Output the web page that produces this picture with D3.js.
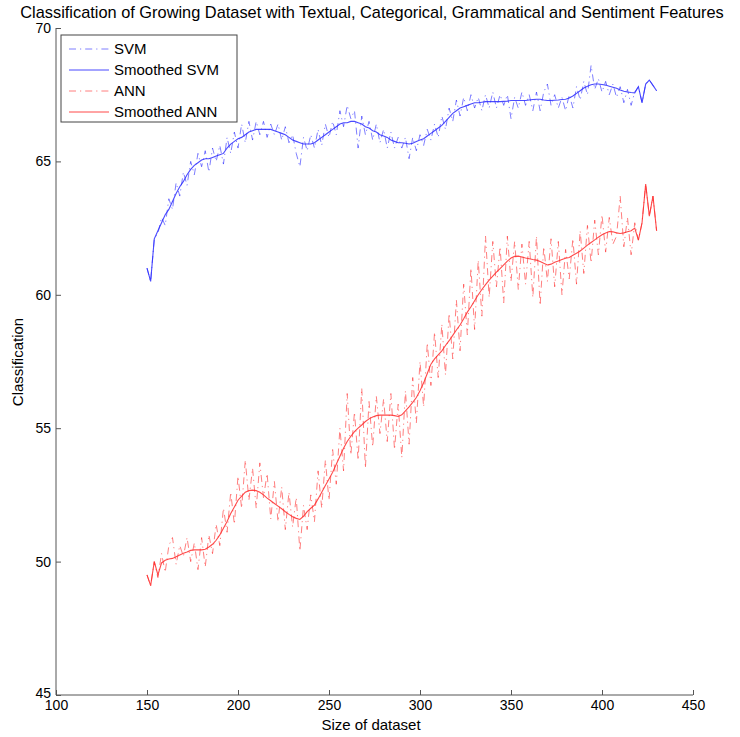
<!DOCTYPE html>
<html><head><meta charset="utf-8">
<script src="https://cdn.jsdelivr.net/npm/d3@7"></script>
<style>body{margin:0;background:#fff}svg{display:block}text{font-family:"Liberation Sans",Arial,sans-serif;fill:#000}</style>
</head><body>
<svg id="chart" width="740" height="737"></svg>
<script>
const titleText = "Classification of Growing Dataset with Textual, Categorical, Grammatical and Sentiment Features";
const xTicks = [100,150,200,250,300,350,400,450];
const yTicks = [45,50,55,60,65,70];
const sizes = d3.range(150, 431, 2);

const svmRaw = [
61.0,60.5,62.1,62.3,62.9,62.6,63.6,63.2,64.2,63.7,
64.6,64.1,65.0,64.5,65.3,64.8,65.4,64.6,65.5,65.0,
65.6,64.9,65.9,65.3,66.1,65.5,66.4,65.7,66.5,65.8,
66.5,66.0,66.5,65.9,66.4,66.0,66.4,65.8,66.3,65.7,
66.0,65.3,64.8,65.9,65.4,66.0,65.5,66.2,65.6,66.4,
65.9,66.5,66.0,66.9,66.3,67.1,66.6,66.9,65.5,66.7,
66.0,66.5,65.8,66.4,65.7,66.2,65.5,66.1,65.5,65.9,
65.5,65.9,65.1,65.9,65.4,66.0,65.6,66.2,65.8,66.4,
65.9,66.7,66.2,67.0,66.5,67.3,66.7,67.4,66.9,67.5,
67.0,67.4,66.9,67.5,67.0,67.6,67.0,67.5,67.1,67.5,
66.6,67.4,67.0,67.6,67.1,67.5,66.9,67.6,66.9,67.6,
67.9,67.1,67.5,67.0,67.4,66.9,67.5,67.0,67.8,67.3,
68.0,67.5,68.6,67.7,68.1,67.6,68.0,67.5,67.9,67.4,
67.8,67.2,67.7,67.1,67.6,67.8,67.2,67.9,68.05,67.85,
67.65];

const svmSmooth = [
61.0,60.5,62.1,62.4,62.7,63.0,63.2,63.5,63.8,64.05,
64.25,64.5,64.7,64.85,64.95,65.05,65.1,65.1,65.15,65.2,
65.25,65.3,65.5,65.65,65.75,65.85,65.9,66.0,66.1,66.15,
66.2,66.2,66.2,66.2,66.2,66.15,66.1,66.05,66.0,65.9,
65.8,65.75,65.7,65.65,65.65,65.65,65.7,65.8,65.9,66.0,
66.1,66.2,66.3,66.4,66.45,66.45,66.5,66.5,66.45,66.4,
66.3,66.25,66.15,66.1,66.0,65.95,65.9,65.8,65.75,65.7,
65.7,65.68,65.65,65.68,65.75,65.8,65.85,65.95,66.05,66.15,
66.25,66.35,66.5,66.65,66.8,66.9,67.0,67.05,67.1,67.15,
67.2,67.2,67.22,67.24,67.24,67.24,67.24,67.24,67.25,67.26,
67.28,67.28,67.28,67.28,67.28,67.3,67.32,67.33,67.33,67.3,
67.28,67.28,67.29,67.3,67.32,67.33,67.38,67.45,67.55,67.65,
67.75,67.82,67.87,67.9,67.9,67.88,67.86,67.82,67.78,67.74,
67.68,67.63,67.6,67.58,67.57,67.8,67.2,67.9,68.05,67.85,
67.65];

const annRaw = [
49.5,49.1,50.0,49.4,50.3,49.6,50.6,50.9,49.9,50.6,
50.2,50.9,50.0,50.7,49.7,50.9,49.8,51.0,50.3,51.4,
50.6,52.0,51.1,52.6,51.4,53.2,52.0,53.8,52.3,53.5,
52.0,53.7,52.4,53.3,51.6,53.0,51.5,52.8,51.2,52.6,
51.3,52.4,50.4,52.1,51.2,52.5,51.5,53.4,52.0,53.8,
52.3,54.2,52.9,55.0,53.4,56.3,54.0,55.6,53.8,56.5,
53.5,56.0,54.3,56.2,54.8,56.1,54.5,56.3,54.2,55.9,
53.9,56.4,54.4,56.9,55.2,57.5,55.8,58.2,56.6,58.6,
56.9,58.9,57.0,59.3,57.6,59.8,57.9,60.4,58.5,61.0,
58.7,61.3,59.2,62.2,59.9,62.0,60.3,61.8,59.7,62.2,
60.5,62.0,60.2,61.9,60.4,62.0,59.9,62.2,59.6,61.8,
60.5,62.1,60.3,62.0,60.0,61.7,60.6,62.1,60.4,62.4,
60.8,62.6,61.2,62.8,61.5,63.0,61.6,62.9,61.9,62.2,
63.7,61.8,62.9,61.5,62.7,62.05,62.7,64.15,62.95,63.7,
62.4];

const annSmooth = [
49.5,49.1,50.0,49.5,49.95,50.05,50.1,50.12,50.18,50.25,
50.31,50.36,50.42,50.44,50.44,50.44,50.46,50.55,50.65,50.8,
51.0,51.25,51.5,51.8,52.05,52.3,52.45,52.6,52.66,52.68,
52.66,52.6,52.5,52.38,52.28,52.18,52.08,51.98,51.87,51.77,
51.68,51.62,51.58,51.7,51.87,52.0,52.12,52.35,52.6,52.85,
53.1,53.35,53.65,53.95,54.25,54.5,54.7,54.87,55.0,55.12,
55.25,55.35,55.42,55.47,55.49,55.49,55.49,55.49,55.47,55.44,
55.5,55.65,55.8,55.97,56.15,56.4,56.7,57.05,57.4,57.6,
57.75,57.9,58.1,58.28,58.48,58.68,58.87,59.1,59.35,59.55,
59.78,60.0,60.2,60.38,60.55,60.7,60.85,60.98,61.12,61.26,
61.38,61.44,61.45,61.42,61.38,61.35,61.32,61.3,61.25,61.18,
61.12,61.15,61.22,61.27,61.32,61.37,61.4,61.48,61.56,61.64,
61.75,61.86,61.96,62.06,62.16,62.25,62.32,62.37,62.36,62.32,
62.3,62.32,62.36,62.4,62.5,62.05,62.7,64.15,62.95,63.7,
62.4];

const seriesNames = ["SVM","Smoothed SVM","ANN","Smoothed ANN"];

const svg = d3.select("#chart");
const x = d3.scaleLinear().domain([100,450]).range([56,693]);
const y = d3.scaleLinear().domain([45,70]).range([695,28]);
const axisColor = "#555";

const xAxis = svg.append("g").attr("transform","translate(0,695)")
  .call(d3.axisBottom(x).tickValues(xTicks).tickSize(-5).tickPadding(5).tickFormat(d3.format("d")));
const yAxis = svg.append("g").attr("transform","translate(56,0)")
  .call(d3.axisLeft(y).tickValues(yTicks).tickSize(-5).tickPadding(5).tickFormat(d3.format("d")));
[xAxis,yAxis].forEach(a=>{
  a.select(".domain").attr("stroke",axisColor).attr("stroke-width",1);
  a.selectAll(".tick line").attr("stroke",axisColor);
  a.selectAll(".tick text").attr("font-size","14px").attr("fill","#000")
   .attr("font-family","'Liberation Sans',Arial,sans-serif");
});
xAxis.select(".domain").attr("d","M56,0H693");
yAxis.select(".domain").attr("d","M0,28V695");
// MATLAB draws the lowest y label slightly raised above the x labels
yAxis.selectAll(".tick").filter(d=>d===45).select("text").attr("dy","0.15em");

const line = vals => d3.line().x((d,i)=>x(sizes[i])).y(d=>y(d))(vals);
const blue = "#2a2aff", red = "#ff2a2a";
const dash = "7,4,1.2,4";

svg.append("path").attr("d",line(svmRaw)).attr("fill","none").attr("stroke",blue)
  .attr("stroke-width",1).attr("stroke-dasharray",dash).attr("opacity",0.6);
svg.append("path").attr("d",line(annRaw)).attr("fill","none").attr("stroke",red)
  .attr("stroke-width",1).attr("stroke-dasharray",dash).attr("opacity",0.6);
svg.append("path").attr("d",line(svmSmooth)).attr("fill","none").attr("stroke",blue)
  .attr("stroke-width",1.1).attr("opacity",0.85);
svg.append("path").attr("d",line(annSmooth)).attr("fill","none").attr("stroke",red)
  .attr("stroke-width",1.1).attr("opacity",0.85);

const t = svg.append("text").attr("x",372).attr("y",18).attr("text-anchor","middle")
  .attr("font-size","14px").text(titleText);
const tw = t.node().getComputedTextLength();
t.attr("font-size",(14*704/tw).toFixed(2)+"px");

svg.append("text").attr("x",371).attr("y",730).attr("text-anchor","middle")
  .attr("font-size","15px").text("Size of dataset");
svg.append("text").attr("transform","translate(23,362) rotate(-90)").attr("text-anchor","middle")
  .attr("font-size","15px").text("Classification");

const lg = svg.append("g");
lg.append("rect").attr("x",61).attr("y",35).attr("width",176).attr("height",87)
  .attr("fill","#fff").attr("stroke","#444").attr("stroke-width",1);
const rowsY = [49,70,91,112];
const styles = [
  {c:blue,d:dash,o:0.6},{c:blue,d:null,o:0.85},{c:red,d:dash,o:0.6},{c:red,d:null,o:0.85}];
seriesNames.forEach((n,i)=>{
  lg.append("line").attr("x1",69).attr("x2",109).attr("y1",rowsY[i]).attr("y2",rowsY[i])
    .attr("stroke",styles[i].c).attr("stroke-width",1).attr("opacity",styles[i].o)
    .attr("stroke-dasharray",styles[i].d);
  lg.append("text").attr("x",114).attr("y",rowsY[i]+5).attr("font-size","15px").text(n);
});
</script>
</body></html>
